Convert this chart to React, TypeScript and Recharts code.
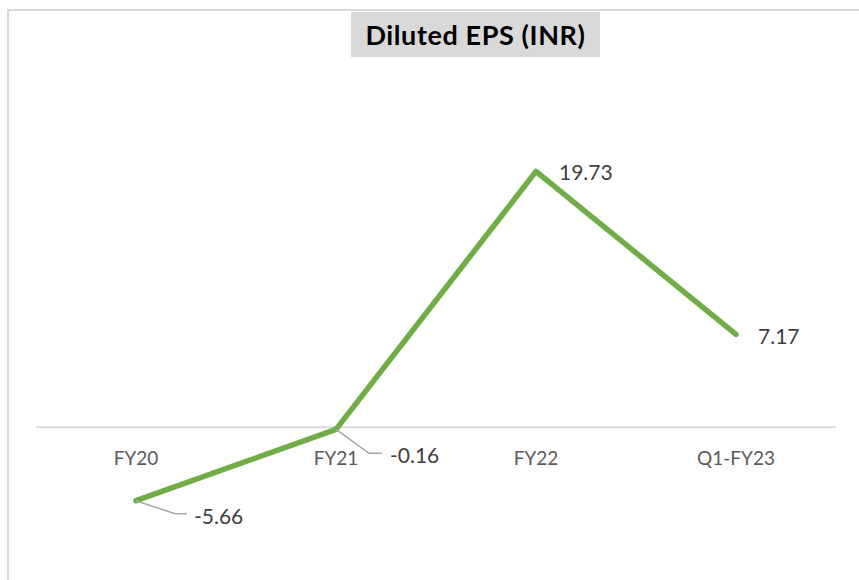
import { LineChart, Line, XAxis, YAxis, ReferenceLine, LabelList } from 'recharts';

const categories = ['FY20', 'FY21', 'FY22', 'Q1-FY23'];
const epsValues = [-5.66, -0.16, 19.73, 7.17];
const yDomain = [-10, 25];

const data = categories.map((period, i) => ({ period, eps: epsValues[i] }));

const W = 859;
const H = 580;
const margin = { top: 103, right: 23, bottom: 0, left: 36 };
const xAxisH = 23;
const font = 'Lato, "Open Sans", sans-serif';

// y pixel of the zero line, used only to place the category labels under it
const plotH = H - margin.top - margin.bottom - xAxisH;
const zeroY = margin.top + (yDomain[1] / (yDomain[1] - yDomain[0])) * plotH;

const CategoryTick = (props: any) => {
  const { x, payload } = props;
  return (
    <text x={x} y={zeroY + 38} textAnchor="middle" fill="#595959" fontSize={19} fontFamily={font}>
      {payload.value}
    </text>
  );
};

// label offsets per point: text start/baseline, and optional leader line
const labelPos = [
  { dx: 58, dy: 23, leader: [39, 13, 51] },
  { dx: 54, dy: 34, leader: [33, 24, 46] },
  { dx: 23, dy: 9, leader: null },
  { dx: 22, dy: 10, leader: null },
];

const PointLabel = (props: any) => {
  const { x, y, value, index } = props;
  const p = labelPos[index];
  return (
    <g>
      {p.leader && (
        <polyline
          points={`${x},${y} ${x + p.leader[0]},${y + p.leader[1]} ${x + p.leader[2]},${y + p.leader[1]}`}
          fill="none"
          stroke="#a6a6a6"
          strokeWidth={1.5}
        />
      )}
      <text x={x + p.dx} y={y + p.dy} fill="#404040" fontSize={21} fontFamily={font}>
        {value.toFixed(2)}
      </text>
    </g>
  );
};

export default function App() {
  return (
    <div style={{ position: 'absolute', left: 0, top: 0, width: W, height: H, background: '#fff' }}>
      <div
        style={{
          position: 'absolute',
          left: 7,
          top: 9,
          width: W,
          height: H,
          borderLeft: '2px solid #d9d9d9',
          borderTop: '2px solid #d9d9d9',
          boxSizing: 'border-box',
        }}
      />
      <div
        style={{
          position: 'absolute',
          left: 351,
          top: 12,
          width: 249,
          height: 45,
          background: '#d9d9d9',
          fontFamily: font,
          fontWeight: 700,
          fontSize: 27,
          letterSpacing: 0.6,
          color: '#000',
          display: 'flex',
          alignItems: 'center',
          justifyContent: 'center',
        }}
      >
        Diluted EPS (INR)
      </div>
      <LineChart width={W} height={H} data={data} margin={margin} style={{ position: 'absolute', left: 0, top: 0 }}>
        <XAxis
          dataKey="period"
          axisLine={false}
          tickLine={false}
          height={xAxisH}
          tick={<CategoryTick />}
          interval={0}
          padding={{ left: 100, right: 100 }}
        />
        <YAxis hide domain={yDomain} />
        <ReferenceLine y={0} stroke="#d9d9d9" strokeWidth={2} />
        <Line
          type="linear"
          dataKey="eps"
          stroke="#70ad47"
          strokeWidth={5.5}
          strokeLinecap="round"
          strokeLinejoin="round"
          dot={false}
          isAnimationActive={false}
        >
          <LabelList dataKey="eps" content={<PointLabel />} />
        </Line>
      </LineChart>
    </div>
  );
}
